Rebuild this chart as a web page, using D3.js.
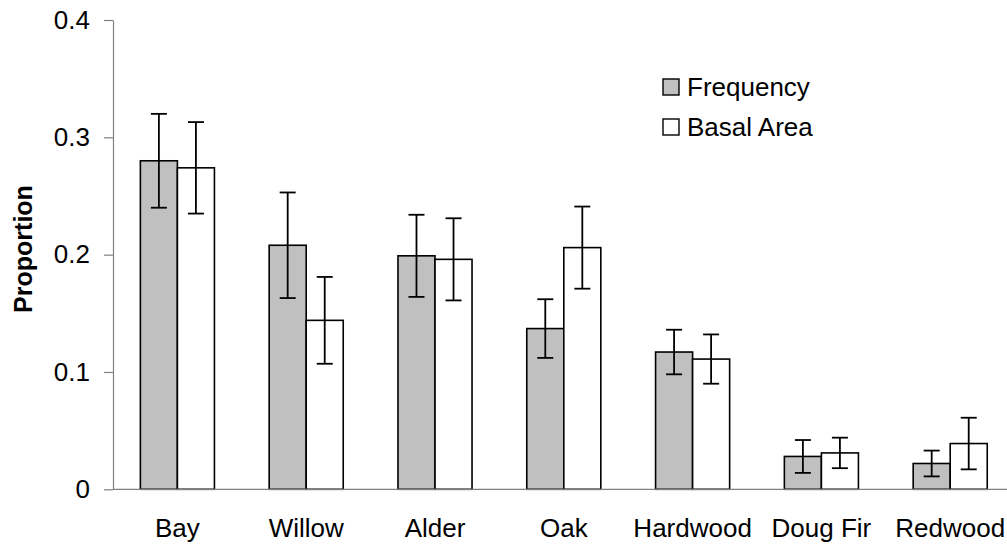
<!DOCTYPE html>
<html>
<head>
<meta charset="utf-8">
<script src="https://cdn.jsdelivr.net/npm/d3@7"></script>
<style>
  html, body { margin: 0; padding: 0; background: #fff; }
  svg { display: block; font-family: "Liberation Sans", Arial, sans-serif; }
</style>
</head>
<body>
<svg id="chart" width="1007" height="548"></svg>
<script>
// Tree species and their share of stems (frequency) and basal area
const categories = ["Bay", "Willow", "Alder", "Oak", "Hardwood", "Doug Fir", "Redwood"];
const seriesNames = ["Frequency", "Basal Area"];
const frequency = [0.280, 0.208, 0.199, 0.137, 0.117, 0.028, 0.022];
const frequencyErr = [0.040, 0.045, 0.035, 0.025, 0.019, 0.014, 0.011];
const basalArea = [0.274, 0.144, 0.196, 0.206, 0.111, 0.031, 0.039];
const basalAreaErr = [0.039, 0.037, 0.035, 0.035, 0.021, 0.013, 0.022];
const yTicks = [0, 0.1, 0.2, 0.3, 0.4];
const seriesFill = ["#c0c0c0", "#ffffff"];

const svg = d3.select("#chart");
const axisColor = "#808080";
const fontSize = "26px";

const x0 = d3.scaleBand()
  .domain(categories)
  .range([113, 1014.6])
  .paddingInner(0.425)
  .paddingOuter(0.2125);

const x1 = d3.scaleBand()
  .domain(seriesNames)
  .range([0, x0.bandwidth()])
  .padding(0);

const y = d3.scaleLinear().domain([0, 0.4]).range([489.3, 20]);

const values = [frequency, basalArea];
const errs = [frequencyErr, basalAreaErr];

const rows = [];
categories.forEach((c, i) => {
  seriesNames.forEach((s, j) => {
    rows.push({ cat: c, series: s, idx: j, value: values[j][i], err: errs[j][i] });
  });
});

// Y axis
const yAxis = d3.axisLeft(y)
  .tickValues(yTicks)
  .tickFormat(d => d === 0 ? "0" : d3.format(".1f")(d))
  .tickSizeInner(9)
  .tickSizeOuter(0)
  .tickPadding(14);

const gy = svg.append("g")
  .attr("transform", "translate(113,0)")
  .call(yAxis);
gy.select(".domain").attr("stroke", axisColor).attr("stroke-width", 1.2);
gy.selectAll(".tick line").attr("stroke", axisColor).attr("stroke-width", 1.2);
gy.selectAll(".tick text")
  .attr("fill", "#000")
  .style("font-size", fontSize)
  .style("font-family", "'Liberation Sans', Arial, sans-serif");

// Bars
svg.append("g")
  .selectAll("rect")
  .data(rows)
  .join("rect")
  .attr("x", d => x0(d.cat) + x1(d.series))
  .attr("y", d => y(d.value))
  .attr("width", x1.bandwidth())
  .attr("height", d => y(0) - y(d.value))
  .attr("fill", d => seriesFill[d.idx])
  .attr("stroke", "#000")
  .attr("stroke-width", 1.6);

// X axis line (no tick marks)
const xAxis = d3.axisBottom(x0).tickSize(0).tickPadding(29);
const gx = svg.append("g")
  .attr("transform", `translate(0,${y(0)})`)
  .call(xAxis);
gx.select(".domain")
  .attr("d", `M113,0H1007`)
  .attr("stroke", axisColor)
  .attr("stroke-width", 1.2);
gx.selectAll(".tick text")
  .attr("fill", "#000")
  .style("font-size", fontSize)
  .style("font-family", "'Liberation Sans', Arial, sans-serif");

// Error bars
const capHalf = 8;
const eb = svg.append("g")
  .attr("stroke", "#000")
  .attr("stroke-width", 1.8)
  .attr("fill", "none");
rows.forEach(d => {
  const cx = x0(d.cat) + x1(d.series) + x1.bandwidth() / 2;
  const yHi = y(d.value + d.err);
  const yLo = y(d.value - d.err);
  eb.append("line").attr("x1", cx).attr("x2", cx).attr("y1", yHi).attr("y2", yLo);
  eb.append("line").attr("x1", cx - capHalf).attr("x2", cx + capHalf).attr("y1", yHi).attr("y2", yHi);
  eb.append("line").attr("x1", cx - capHalf).attr("x2", cx + capHalf).attr("y1", yLo).attr("y2", yLo);
});

// Y axis title
svg.append("text")
  .attr("transform", "translate(32,249) rotate(-90)")
  .attr("text-anchor", "middle")
  .style("font-size", "25px")
  .style("font-weight", "bold")
  .text("Proportion");

// Legend
const legend = svg.append("g");
seriesNames.forEach((s, j) => {
  const yy = 87 + j * 40;
  legend.append("rect")
    .attr("x", 663)
    .attr("y", yy - 8)
    .attr("width", 16)
    .attr("height", 16)
    .attr("fill", seriesFill[j])
    .attr("stroke", "#000")
    .attr("stroke-width", 1.4);
  legend.append("text")
    .attr("x", 687)
    .attr("y", yy + 9)
    .style("font-size", fontSize)
    .text(s);
});
</script>
</body>
</html>
